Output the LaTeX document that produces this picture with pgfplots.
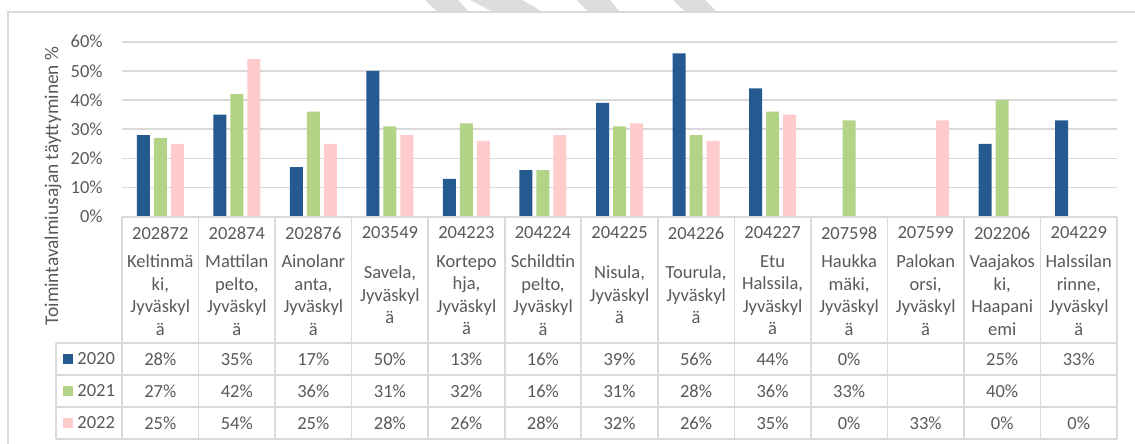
\documentclass[border=0pt]{standalone}
\usepackage{fontspec}
\setmainfont{Carlito}
\usepackage{pgfplots}
\pgfplotsset{compat=1.18}

\definecolor{c2020}{HTML}{255A91}
\definecolor{c2021}{HTML}{B3D387}
\definecolor{c2022}{HTML}{FFCBCB}
\definecolor{txt}{HTML}{595959}
\definecolor{rulegray}{HTML}{D9D9D9}
\definecolor{stripegray}{HTML}{DDDDDD}

\newcommand{\fnt}{\fontsize{9.25}{11.25}\selectfont}

\begin{document}
\begin{tikzpicture}
% 1px = 0.5pt, origin at the top left pixel
\path[use as bounding box, x=0.5pt, y=-0.5pt] (0,0) rectangle (1135,444);

\begin{axis}[
  at={(61pt,-108.35pt)}, anchor=south west,
  width=497.5pt, height=87.5pt, scale only axis,
  xmin=-0.5, xmax=12.5, ymin=0, ymax=60,
  ybar=2pt, bar width=6.5pt,
  axis line style={draw=none},
  xtick=\empty,
  ytick={0,10,...,60},
  yticklabel={\pgfmathprintnumber{\tick}\%},
  yticklabel style={inner sep=0pt, xshift=-9.5pt, font=\fnt, text=txt},
  /pgf/number format/assume math mode=true,
  major tick length=0pt,
  ymajorgrids, grid style={rulegray, line width=0.8pt},
  clip=false,
]
\addplot[fill=c2020, draw=none] coordinates {(0,28) (1,35) (2,17) (3,50) (4,13) (5,16) (6,39) (7,56) (8,44) (9,0) (11,25) (12,33)};
\addplot[fill=c2021, draw=none] coordinates {(0,27) (1,42) (2,36) (3,31) (4,32) (5,16) (6,31) (7,28) (8,36) (9,33) (11,40)};
\addplot[fill=c2022, draw=none] coordinates {(0,25) (1,54) (2,25) (3,28) (4,26) (5,28) (6,32) (7,26) (8,35) (9,0) (10,33) (11,0) (12,0)};
\end{axis}

\begin{scope}[x=0.5pt, y=-0.5pt]
  % watermark stripes at the top edge
  \fill[stripegray] (425,0) -- (458,0) -- (469,12) -- (437,12) -- cycle;
  \fill[stripegray] (470,0) -- (522,0) -- (543,12) -- (493,12) -- cycle;
  \fill[stripegray] (577,0) -- (610,0) -- (620,12) -- (588,12) -- cycle;
  \fill[stripegray] (673,0) -- (705,0) -- (717,12) -- (685,12) -- cycle;
  % chart frame
  \draw[rulegray, line width=0.6pt] (8,444) -- (8,12) -- (1135,12);

  % axis title
  \node[rotate=90, font=\fontsize{9.7}{11.5}\selectfont, text=txt] at (53,186) {Toimintavalmiusajan täyttyminen \%};

  % data table grid
  \begin{scope}[rulegray, line width=0.8pt]
    \draw (122,217) -- (1117,217);
    \foreach \y in {343,375,407,439} \draw (56,\y) -- (1117,\y);
    \foreach \i in {0,...,13} \draw ({122+\i*76.54},217) -- ({122+\i*76.54},439);
    \draw (56,343) -- (56,439);
  \end{scope}

  % category headers
  \foreach \code/\name [count=\i from 0] in {
    202872/{Keltinmä\\ki,\\Jyväskyl\\ä},
    202874/{Mattilan\\pelto,\\Jyväskyl\\ä},
    202876/{Ainolanr\\anta,\\Jyväskyl\\ä},
    203549/{Savela,\\Jyväskyl\\ä},
    204223/{Kortepo\\hja,\\Jyväskyl\\ä},
    204224/{Schildtin\\pelto,\\Jyväskyl\\ä},
    204225/{Nisula,\\Jyväskyl\\ä},
    204226/{Tourula,\\Jyväskyl\\ä},
    204227/{Etu\\Halssila,\\Jyväskyl\\ä},
    207598/{Haukka\\mäki,\\Jyväskyl\\ä},
    207599/{Palokan\\orsi,\\Jyväskyl\\ä},
    202206/{Vaajakos\\ki,\\Haapani\\emi},
    204229/{Halssilan\\rinne,\\Jyväskyl\\ä}} {
    \node[font=\fnt, text=txt] at ({160.27+\i*76.54},233) {\code};
    \node[font=\fnt, text=txt, align=center] at ({160.27+\i*76.54},295) {\name};
  }

  % legend keys
  \foreach \c/\yr/\y in {c2020/2020/359, c2021/2021/391, c2022/2022/423} {
    \fill[\c] (63,\y-5) rectangle (73,\y+5);
    \node[font=\fnt, text=txt, anchor=west, inner sep=0pt] at (77,\y) {\yr};
  }

  % table values
  \foreach \v [count=\i from 0] in {28\%,35\%,17\%,50\%,13\%,16\%,39\%,56\%,44\%,0\%,{},25\%,33\%}
    \node[font=\fnt, text=txt] at ({160.27+\i*76.54},359) {\v};
  \foreach \v [count=\i from 0] in {27\%,42\%,36\%,31\%,32\%,16\%,31\%,28\%,36\%,33\%,{},40\%,{}}
    \node[font=\fnt, text=txt] at ({160.27+\i*76.54},391) {\v};
  \foreach \v [count=\i from 0] in {25\%,54\%,25\%,28\%,26\%,28\%,32\%,26\%,35\%,0\%,33\%,0\%,0\%}
    \node[font=\fnt, text=txt] at ({160.27+\i*76.54},423) {\v};
\end{scope}
\end{tikzpicture}
\end{document}
